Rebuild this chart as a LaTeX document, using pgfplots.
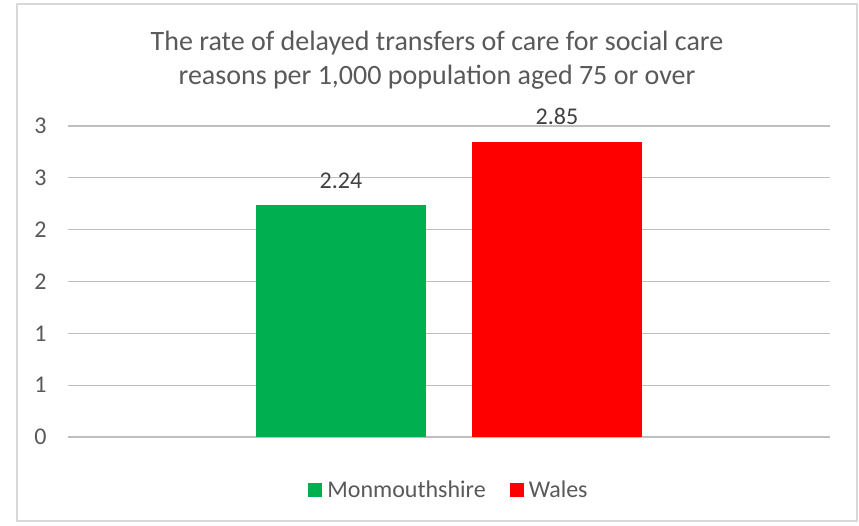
\documentclass[border=0pt]{standalone}
\usepackage{fontspec}
\setmainfont{Carlito}
\usepackage{pgfplots}
\pgfplotsset{compat=1.18}
\definecolor{txt}{HTML}{595959}
\definecolor{lbl}{HTML}{404040}
\definecolor{grid}{HTML}{D9D9D9}
\definecolor{mongreen}{HTML}{00B050}
\definecolor{walesred}{HTML}{FF0000}
\begin{document}
\begin{tikzpicture}
\useasboundingbox (0pt,0pt) rectangle (859pt,525pt);
\fill[white] (0pt,0pt) rectangle (859pt,525pt);
\draw[grid, line width=1.2pt] (17pt,4pt) rectangle (857pt,521pt);
\node[text=txt, align=center, font=\fontsize{28}{34}\selectfont] at (437pt,465pt)
  {The rate of delayed transfers of care for social care\\reasons per 1,000 population aged 75 or over};
\begin{axis}[
    at={(68pt,88pt)}, anchor=south west,
    scale only axis,
    width=762pt, height=311pt,
    xmin=-1, xmax=1,
    ymin=0, ymax=3,
    axis line style={draw=none},
    xtick=\empty,
    ytick={0,0.5,...,3},
    yticklabels={0,1,1,2,2,3,3},
    ymajorgrids,
    grid style={grid, line width=1.2pt},
    major tick length=0pt,
    tick label style={text=txt, font=\fontsize{24}{28}\selectfont},
    yticklabel style={xshift=-18pt},
    /pgf/number format/assume math mode=true,
    ybar, bar width=0.446, bar shift=0pt,
    nodes near coords,
    nodes near coords style={text=lbl, font=\fontsize{24}{28}\selectfont, yshift=13pt},
    legend columns=2,
    legend style={at={(0.5,-0.17)}, anchor=center, draw=none, fill=none,
      font=\fontsize{24}{28}\selectfont, text=txt,
      /tikz/every odd column/.append style={column sep=3pt},
      /tikz/every even column/.append style={column sep=22pt}},
    legend image code/.code={\fill[#1] (0pt,-7pt) rectangle (14pt,7pt);},
]
\addplot[fill=mongreen, draw=none] coordinates {(-0.2835,2.24)};
\addplot[fill=walesred, draw=none] coordinates {(0.2835,2.85)};
\legend{Monmouthshire, Wales}
\end{axis}
\end{tikzpicture}
\end{document}
